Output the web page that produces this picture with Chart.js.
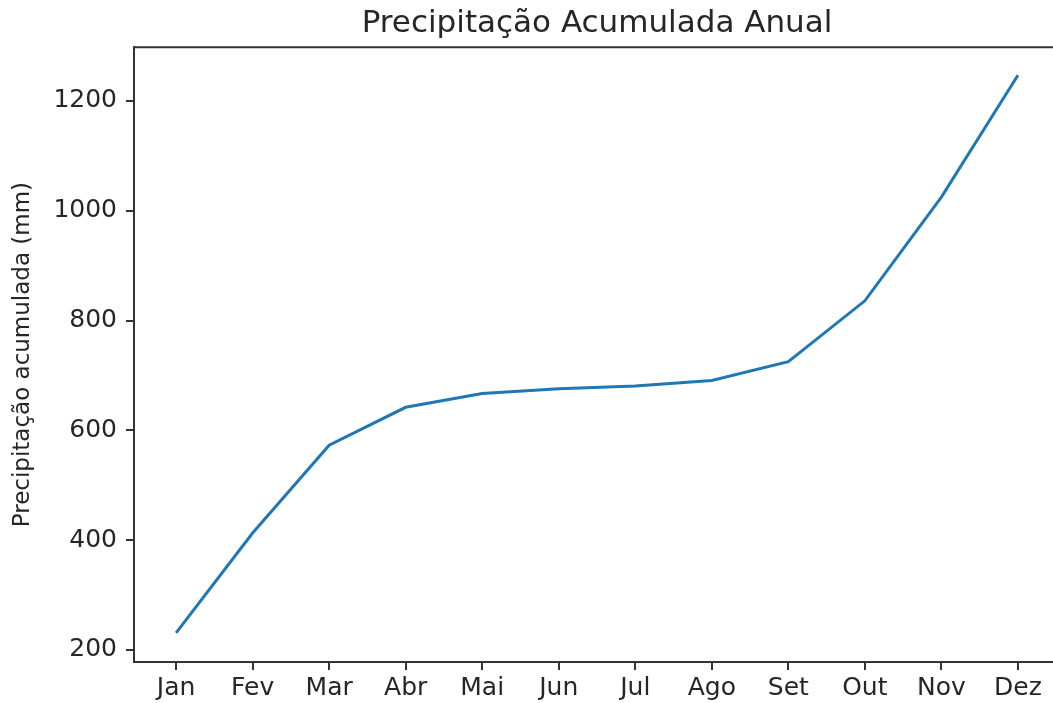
<!DOCTYPE html>
<html>
<head>
<meta charset="utf-8">
<script src="https://cdn.jsdelivr.net/npm/chart.js@4"></script>
<style>
  body { margin: 0; background: #fff; }
  #wrap { width: 1053px; height: 703px; overflow: hidden; }
</style>
</head>
<body>
<div id="wrap"><canvas id="precip" width="1080" height="703"></canvas></div>
<script>
var months = ['Jan', 'Fev', 'Mar', 'Abr', 'Mai', 'Jun', 'Jul', 'Ago', 'Set', 'Out', 'Nov', 'Dez'];
var accumulated = [231, 413, 573, 642, 667, 676, 681, 691, 725, 836, 1025, 1247];
var yTicks = [200, 400, 600, 800, 1000, 1200];

var ink = '#262626';
var frame = '#333';

// matplotlib draws a full box, Chart.js only the axis borders
var topSpine = {
    id: 'topSpine',
    afterDraw: function (chart) {
        var a = chart.chartArea, ctx = chart.ctx;
        ctx.save();
        ctx.strokeStyle = frame;
        ctx.lineWidth = 2;
        ctx.beginPath();
        ctx.moveTo(a.left - 1, a.top);
        ctx.lineTo(a.right, a.top);
        ctx.stroke();
        ctx.restore();
    }
};

var precipChart = new Chart(document.getElementById('precip'), {
    type: 'line',
    data: {
        datasets: [{
            data: accumulated.map(function (v, i) { return { x: i, y: v }; }),
            borderColor: '#1f77b4',
            borderWidth: 3,
            pointRadius: 0,
            fill: false,
            tension: 0
        }]
    },
    options: {
        responsive: false,
        animation: false,
        devicePixelRatio: 1,
        layout: { padding: { left: 0, right: 20, top: 0, bottom: 0 } },
        plugins: {
            legend: { display: false },
            tooltip: { enabled: false },
            title: {
                display: true,
                fullSize: false,
                text: 'Precipitação Acumulada Anual',
                color: ink,
                font: { family: 'DejaVu Sans', size: 31, weight: 'normal' },
                padding: { top: 5, bottom: 5 }
            }
        },
        scales: {
            x: {
                type: 'linear',
                min: -0.55,
                max: months.length - 1 + 0.55,
                afterFit: function (s) { s.height = 41; },
                border: { display: true, color: frame, width: 2 },
                grid: { drawOnChartArea: false, drawTicks: true, tickLength: 8, color: frame, lineWidth: 2 },
                ticks: {
                    stepSize: 1,
                    includeBounds: false,
                    autoSkip: false,
                    maxRotation: 0,
                    padding: 3,
                    color: ink,
                    font: { family: 'DejaVu Sans', size: 25 },
                    callback: function (v) { return months[v] || ''; }
                }
            },
            y: {
                min: 178,
                max: 1298,
                afterFit: function (s) { s.width = 134; },
                afterBuildTicks: function (s) { s.ticks = yTicks.map(function (v) { return { value: v }; }); },
                border: { display: true, color: frame, width: 2 },
                grid: { drawOnChartArea: false, drawTicks: true, tickLength: 8, color: frame, lineWidth: 2 },
                title: {
                    display: true,
                    text: 'Precipitação acumulada (mm)',
                    color: ink,
                    font: { family: 'DejaVu Sans', size: 23 },
                    padding: { top: 9, bottom: 0 }
                },
                ticks: {
                    includeBounds: false,
                    padding: 9,
                    color: ink,
                    font: { family: 'DejaVu Sans', size: 25 },
                    callback: function (v) { return String(v); }
                }
            }
        }
    },
    plugins: [topSpine]
});
</script>
</body>
</html>
